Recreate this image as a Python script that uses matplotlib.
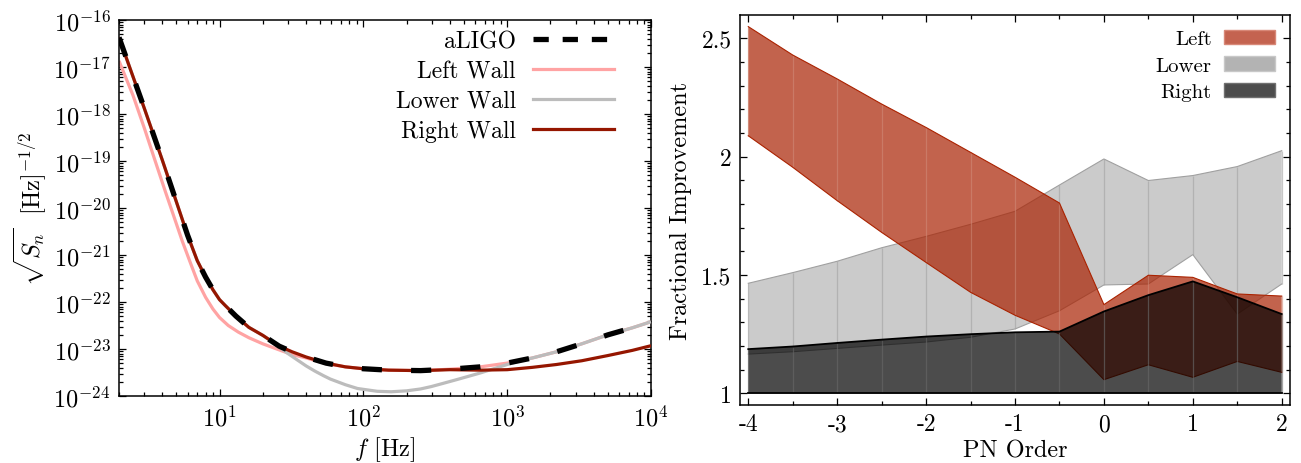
import numpy as np
import matplotlib
matplotlib.use("Agg")
import matplotlib.pyplot as plt
from matplotlib.lines import Line2D
from matplotlib.patches import Patch
from matplotlib.ticker import LogLocator, NullFormatter, MultipleLocator, FixedLocator, FixedFormatter

plt.rcParams['font.family'] = ['cmr10', 'DejaVu Serif']
plt.rcParams['mathtext.fontset'] = 'cm'
plt.rcParams['axes.unicode_minus'] = False
plt.rcParams['axes.formatter.use_mathtext'] = True
plt.rcParams['lines.scale_dashes'] = False

# ---------------- noise curves (frequency in Hz, log10 of amplitude) ----------------
f_aligo = [2.0, 3.0, 4.0, 5.0, 6.0, 7.0, 8.0, 9.0, 10.0, 11.0, 13.0, 16.0, 20.0, 26.0,
           32.0, 40.0, 55.0, 75.0, 100.0, 150.0, 250.0, 400.0, 650.0, 1000.0, 1500.0,
           2200.0, 3300.0, 5000.0, 7400.0, 10000.0]
logs_aligo = [-16.37, -17.88, -18.98, -19.86, -20.58, -21.12, -21.47, -21.74, -21.95, -22.08,
              -22.30, -22.54, -22.71, -22.94, -23.06, -23.17, -23.30, -23.38, -23.42, -23.45,
              -23.46, -23.43, -23.38, -23.30, -23.19, -23.06, -22.89, -22.70, -22.55, -22.42]

f_left = [2.0, 2.5, 3.0, 3.66, 4.2, 4.79, 5.5, 6.26, 7.0, 8.0, 9.0, 10.0, 11.5, 13.5, 16.0,
          20.0, 25.0, 32.0, 40.0, 55.0, 75.0, 100.0, 150.0, 250.0, 400.0, 650.0, 1000.0,
          1500.0, 2200.0, 3300.0, 5000.0, 7400.0, 10000.0]
logs_left = [-16.87, -17.60, -18.30, -19.10, -19.65, -20.16, -20.70, -21.16, -21.55, -21.90,
             -22.15, -22.33, -22.50, -22.64, -22.76, -22.89, -23.00, -23.12, -23.19, -23.31,
             -23.38, -23.42, -23.45, -23.46, -23.43, -23.38, -23.30, -23.19, -23.06, -22.89,
             -22.70, -22.55, -22.42]

f_lower = [2.0, 3.0, 4.0, 5.0, 6.0, 7.0, 8.0, 9.0, 10.0, 11.0, 13.0, 16.0, 20.0, 23.0, 26.0,
           30.0, 35.0, 40.0, 46.0, 53.0, 59.0, 75.0, 91.0, 101.0, 125.0, 156.0, 200.0, 250.0,
           296.0, 350.0, 460.0, 650.0, 865.0, 1000.0, 1200.0, 1500.0, 2200.0, 3300.0, 5000.0,
           7400.0, 10000.0]
logs_lower = [-16.37, -17.88, -18.98, -19.86, -20.58, -21.12, -21.47, -21.74, -21.95, -22.08,
              -22.30, -22.54, -22.71, -22.84, -22.96, -23.10, -23.24, -23.36, -23.47, -23.57,
              -23.64, -23.76, -23.84, -23.86, -23.90, -23.91, -23.89, -23.85, -23.80, -23.74,
              -23.64, -23.51, -23.39, -23.33, -23.26, -23.19, -23.06, -22.89, -22.70, -22.55,
              -22.42]

f_right = [2.0, 3.0, 4.0, 5.0, 6.0, 7.0, 8.0, 9.0, 10.0, 11.0, 13.0, 16.0, 20.0, 26.0, 32.0,
           40.0, 55.0, 75.0, 100.0, 150.0, 250.0, 400.0, 650.0, 1000.0, 1500.0, 2200.0,
           3300.0, 5000.0, 7400.0, 10000.0]
logs_right = [-16.37, -17.88, -18.98, -19.86, -20.58, -21.12, -21.47, -21.74, -21.95, -22.08,
              -22.30, -22.54, -22.71, -22.94, -23.06, -23.17, -23.30, -23.38, -23.42, -23.45,
              -23.46, -23.44, -23.45, -23.44, -23.39, -23.33, -23.25, -23.14, -23.03, -22.93]

# ---------------- fractional improvement bands ----------------
pn_order = [-4, -3.5, -3, -2.5, -2, -1.5, -1, -0.5, 0, 0.5, 1, 1.5, 2]
left_hi = [2.549, 2.429, 2.328, 2.222, 2.123, 2.018, 1.913, 1.804, 1.375, 1.499, 1.490, 1.420, 1.411]
left_lo = [2.088, 1.955, 1.814, 1.680, 1.553, 1.427, 1.330, 1.251, 1.058, 1.121, 1.068, 1.135, 1.089]
lower_hi = [1.465, 1.510, 1.558, 1.615, 1.663, 1.714, 1.769, 1.880, 1.990, 1.899, 1.920, 1.958, 2.025]
lower_lo = [1.166, 1.176, 1.190, 1.204, 1.217, 1.237, 1.272, 1.349, 1.458, 1.462, 1.586, 1.335, 1.462]
right_hi = [1.187, 1.198, 1.213, 1.227, 1.240, 1.250, 1.258, 1.261, 1.346, 1.415, 1.473, 1.406, 1.335]
right_lo = [1.0] * len(pn_order)

W, H = 1301, 464
fig = plt.figure(figsize=(W / 100, H / 100), dpi=100)

# ======================= left panel =======================
ax1 = fig.add_axes([119 / W, (H - 397) / H, 532 / W, 376 / H])

c_left = '#ffa3a3'
c_lower = '#bcbcbc'
c_right = '#951600'
lw = 2.3

ax1.plot(f_left, 10.0 ** np.array(logs_left), color=c_left, lw=lw, solid_capstyle='butt', zorder=2)
ax1.plot(f_lower, 10.0 ** np.array(logs_lower), color=c_lower, lw=lw, solid_capstyle='butt', zorder=3)
ax1.plot(f_right, 10.0 ** np.array(logs_right), color=c_right, lw=lw, solid_capstyle='butt', zorder=4)
ax1.plot(f_aligo, 10.0 ** np.array(logs_aligo), color='black', lw=3.8,
         dashes=(14.5, 21.0), dash_capstyle='butt', zorder=5)

ax1.set_xscale('log')
ax1.set_yscale('log')
ax1.set_xlim(2, 1e4)
ax1.set_ylim(1e-24, 1e-16)

ax1.xaxis.set_major_locator(FixedLocator([10.0, 100.0, 1000.0, 10000.0]))
ax1.xaxis.set_minor_locator(LogLocator(base=10, subs=np.arange(2, 10), numticks=100))
ax1.yaxis.set_major_locator(FixedLocator([10.0 ** k for k in range(-24, -15)]))
ax1.yaxis.set_minor_locator(LogLocator(base=10, subs=np.arange(2, 10), numticks=100))
ax1.xaxis.set_minor_formatter(NullFormatter())
ax1.yaxis.set_minor_formatter(NullFormatter())

ax1.set_xlabel(r'$f$ [Hz]', fontsize=17.5, labelpad=3)
ax1.set_ylabel(r'$\sqrt{S_n}\ \ [\mathrm{Hz}]^{-1/2}$', fontsize=17.5, labelpad=3)

leg_handles = [
    Line2D([], [], color='black', lw=3.8, dashes=(11, 10), dash_capstyle='butt'),
    Line2D([], [], color=c_left, lw=lw),
    Line2D([], [], color=c_lower, lw=lw),
    Line2D([], [], color=c_right, lw=lw),
]
ax1.legend(leg_handles, ['aLIGO', 'Left Wall', 'Lower Wall', 'Right Wall'],
           loc='upper right', bbox_to_anchor=(0.941, 0.989), frameon=False, fontsize=17,
           markerfirst=False, handlelength=3.4, labelspacing=0.33, handletextpad=0.75,
           borderaxespad=0.0, borderpad=0.25)

# ======================= right panel =======================
ax2 = fig.add_axes([740 / W, (H - 406) / H, 550 / W, 390 / H])

x = np.array(pn_order)
band_specs = [
    # (low, high, fill colour, alpha, edge colour, mesh colour)
    (lower_lo, lower_hi, '#b6b6b6', 0.7, '#a0a0a0', '#a2a2a2'),
    (left_lo, left_hi, '#a92101', 0.7, '#aa2200', '#d08a78'),
    (right_lo, right_hi, '#000000', 0.7, '#000000', '#6a6a6a'),
]
z = 1
for lo, hi, fc, a, ec, mc in band_specs:
    lo = np.array(lo)
    hi = np.array(hi)
    ax2.fill_between(x, lo, hi, facecolor=fc, alpha=a, lw=0, zorder=z)
    ax2.vlines(x, lo, hi, colors=mc, lw=0.9, alpha=0.6, zorder=z + 0.1)
    ew = 1.3 if ec == '#000000' else 0.8
    ax2.plot(x, hi, color=ec, lw=ew, zorder=z + 0.2)
    ax2.plot(x, lo, color=ec, lw=ew, zorder=z + 0.2)
    z += 1

ax2.set_xlim(-4.093, 2.093)
ax2.set_ylim(0.951, 2.598)
ax2.xaxis.set_major_locator(FixedLocator([-4, -3, -2, -1, 0, 1, 2]))
ax2.xaxis.set_major_formatter(FixedFormatter(['-4', '-3', '-2', '-1', '0', '1', '2']))
ax2.xaxis.set_minor_locator(MultipleLocator(0.5))
ax2.yaxis.set_major_locator(FixedLocator([1.0, 1.5, 2.0, 2.5]))
ax2.yaxis.set_major_formatter(FixedFormatter(['1', '1.5', '2', '2.5']))
ax2.yaxis.set_minor_locator(MultipleLocator(0.1))

ax2.set_xlabel('PN Order', fontsize=17.5, labelpad=3)
ax2.set_ylabel('Fractional Improvement', fontsize=17.5, labelpad=7)

patch_handles = [
    Patch(facecolor='#c46350', edgecolor='#d88878', lw=1.0),
    Patch(facecolor='#b3b3b3', edgecolor='#c8c8c8', lw=1.0),
    Patch(facecolor='#4d4d4d', edgecolor='#707070', lw=1.0),
]
ax2.legend(patch_handles, ['Left', 'Lower', 'Right'], loc='upper right', frameon=False,
           fontsize=15, markerfirst=False, handlelength=2.45, handleheight=0.7,
           labelspacing=0.38, handletextpad=0.6, borderaxespad=0.3)

# ---------------- shared tick styling ----------------
for ax, fs in ((ax1, 17.5), (ax2, 17)):
    for s in ax.spines.values():
        s.set_linewidth(1.1)
    ax.tick_params(which='both', direction='in', top=True, right=True, width=0.9,
                   labelsize=fs, pad=6)
    ax.tick_params(which='major', length=5)
    ax.tick_params(which='minor', length=3)

fig.savefig('out.png', dpi=100)
